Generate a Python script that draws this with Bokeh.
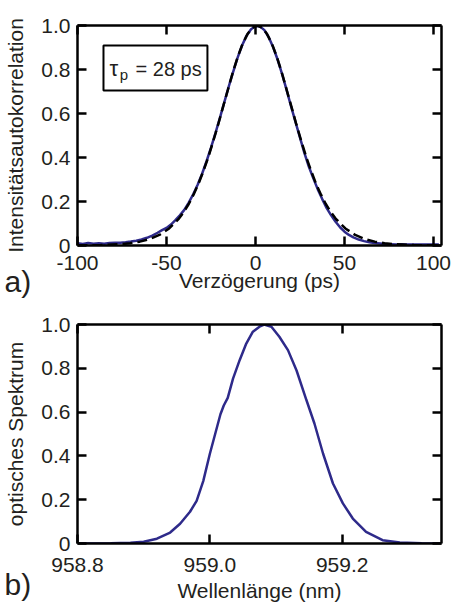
from bokeh.plotting import figure
from bokeh.layouts import column
from bokeh.models import (Range1d, FixedTicker, LinearAxis, Label, BoxAnnotation,
                          PrintfTickFormatter, CustomJSTickFormatter, GridBox)
from bokeh.embed import file_html
from bokeh.resources import INLINE

FONT = "Liberation Sans"
TXT = "#231F20"
BLUE = "#2E2A8A"

# ---------------- panel a) : intensity autocorrelation ----------------
delay_ps = [-100, -97, -94, -91, -88, -85, -82, -79, -76, -73, -70, -67, -64, -61, -58, -55,
            -52.5, -50, -47.5, -45, -42.5, -40, -37.5, -35, -32.5, -30, -27.5, -25, -22.5, -20,
            -17.5, -15, -12.5, -10, -7.5, -5, -2.5,
            0, 1,
            2.5, 5, 7.5, 10, 12.5, 15, 17.5, 20, 22.5, 25, 27.5, 30, 32.5, 35, 37.5, 40, 42.5,
            45, 47.5, 50, 52.5, 55,
            58, 61, 64, 67, 70, 73, 76, 79, 82, 85, 88, 91, 94, 97, 100, 103]
ac_measured = [0.010, 0.007, 0.011, 0.008, 0.010, 0.008, 0.011, 0.012, 0.013, 0.015, 0.018, 0.022,
               0.027, 0.035, 0.045, 0.058,
               0.070, 0.080, 0.095, 0.115, 0.137, 0.162, 0.195, 0.233, 0.276, 0.326, 0.383, 0.445,
               0.511, 0.580, 0.652, 0.723, 0.790, 0.855, 0.910, 0.954, 0.983,
               0.997, 0.998,
               0.996, 0.979, 0.946, 0.900, 0.843, 0.778, 0.706, 0.632, 0.561, 0.490, 0.420, 0.358,
               0.305, 0.255, 0.211, 0.170, 0.137, 0.108, 0.083, 0.063, 0.048, 0.037,
               0.027, 0.020, 0.015, 0.011, 0.009, 0.007, 0.006, 0.005, 0.006, 0.004, 0.005, 0.004,
               0.005, 0.004, 0.005, 0.004]

fit_delay_ps = [-100, -87, -76, -70.5, -65, -59.5, -54, -48.5, -43,
                -40.3, -37.5, -34.8, -32, -29.3, -26.5, -23.8, -21, -18.3, -15.5, -12.8, -10, -7.3,
                -4.5, -1.8,
                1,
                3.8, 6.5, 9.3, 12, 14.8, 17.5, 20.3, 23, 25.8, 28.5, 31.3, 34, 36.8, 39.5, 42.3, 45,
                50.5, 56, 61.5, 67, 72.5, 78, 89, 100, 104.5]
ac_fit = [0.0006, 0.002, 0.0061, 0.0104, 0.0175, 0.0292, 0.0479, 0.0774, 0.1223,
          0.1524, 0.1885, 0.2311, 0.281, 0.338, 0.402, 0.4729, 0.549, 0.6281, 0.708, 0.7852, 0.857,
          0.9152, 0.961, 0.990,
          1.0,
          0.990, 0.961, 0.9152, 0.857, 0.7852, 0.708, 0.6281, 0.549, 0.4729, 0.402, 0.338, 0.281,
          0.2311, 0.1885, 0.1524, 0.1223,
          0.0774, 0.0479, 0.0292, 0.0175, 0.0104, 0.0061, 0.002, 0.0007, 0.0004]

ticks_a = [-100, -50, 0, 50, 100]
ticks_y = [0, 0.2, 0.4, 0.6, 0.8, 1.0]

# ---------------- panel b) : optical spectrum ----------------
wavelength_nm = [958.80, 958.85, 958.88, 958.90, 958.92, 958.94, 958.955, 958.97, 958.98, 958.99,
                 959.00, 959.008, 959.016, 959.021, 959.027, 959.035, 959.045, 959.055, 959.065, 959.075,
                 959.082, 959.093, 959.105, 959.118, 959.131, 959.146, 959.158, 959.171, 959.186, 959.201,
                 959.216, 959.236, 959.261, 959.287, 959.32, 959.35]
spectrum = [0.0, 0.001, 0.003, 0.008, 0.022, 0.05, 0.09, 0.145, 0.195, 0.285,
            0.41, 0.50, 0.59, 0.63, 0.665, 0.753, 0.837, 0.913, 0.967, 0.99,
            1.0, 0.99, 0.944, 0.883, 0.79, 0.654, 0.548, 0.411, 0.274, 0.183,
            0.114, 0.053, 0.015, 0.005, 0.001, 0.0]

ticks_b = [958.8, 959.0, 959.2]

panel_letters = ["a)", "b)"]

blank = CustomJSTickFormatter(code="return ''")


def style(p, xticks, xfmt, xlabel, ylabel, tick_standoff, xlab_standoff):
    p.outline_line_color = None
    p.grid.visible = False
    p.add_layout(LinearAxis(ticker=FixedTicker(ticks=xticks), formatter=blank), "above")
    p.add_layout(LinearAxis(ticker=FixedTicker(ticks=ticks_y), formatter=blank), "right")
    for ax in p.axis:
        ax.axis_line_color = "black"
        ax.axis_line_width = 2.5
        ax.major_tick_line_color = "black"
        ax.major_tick_line_width = 2.5
        ax.major_tick_in = 9
        ax.major_tick_out = 0
        ax.minor_tick_line_color = None
        ax.major_label_text_font = FONT
        ax.major_label_text_font_size = "21px"
        ax.major_label_text_color = TXT
        ax.axis_label_text_font = FONT
        ax.axis_label_text_font_size = "21px"
        ax.axis_label_text_font_style = "normal"
        ax.axis_label_text_color = TXT
    for ax in p.above + p.right:
        ax.major_label_text_color = None
        ax.major_label_standoff = 0
    xa = p.below[0]
    xa.ticker = FixedTicker(ticks=xticks)
    xa.formatter = xfmt
    xa.axis_label = xlabel
    xa.major_label_standoff = tick_standoff
    xa.axis_label_standoff = xlab_standoff
    ya = p.left[0]
    ya.ticker = FixedTicker(ticks=ticks_y)
    ya.formatter = PrintfTickFormatter(format="%.1f")
    ya.major_label_overrides = {0: "0"}
    ya.axis_label = ylabel
    ya.major_label_standoff = 7
    ya.axis_label_standoff = 11


# ---- figure a
pa = figure(width=452, height=310, output_backend="svg", toolbar_location=None,
            x_range=Range1d(-100, 104.5), y_range=Range1d(0, 1.0),
            min_border_left=77, min_border_right=11, min_border_top=25, min_border_bottom=65)
style(pa, ticks_a, PrintfTickFormatter(format="%d"), "Verzögerung (ps)",
      "Intensitätsautokorrelation", 10, -4)
pa.line(delay_ps, ac_measured, line_color=BLUE, line_width=2.5)
pa.line(fit_delay_ps, ac_fit, line_color="black", line_width=2.5, line_dash="10 5")

pa.add_layout(BoxAnnotation(left=-85.4, right=-27.0, bottom=0.7045, top=0.909,
                            fill_color="white", fill_alpha=1.0, line_color="black",
                            line_alpha=1.0, line_width=2))
pa.add_layout(Label(x=-82.0, y=0.8045, text="τ", text_font=FONT, text_font_size="22px",
                    text_color=TXT, text_baseline="middle"))
pa.add_layout(Label(x=-76.3, y=0.7773, text="p", text_font=FONT, text_font_size="15px",
                    text_color=TXT, text_baseline="middle"))
pa.add_layout(Label(x=-67.4, y=0.8045, text="= 28 ps", text_font=FONT, text_font_size="20px",
                    text_color=TXT, text_baseline="middle"))

# ---- figure b
pb = figure(width=452, height=296, output_backend="svg", toolbar_location=None,
            x_range=Range1d(958.8, 959.35), y_range=Range1d(0, 1.0),
            min_border_left=77, min_border_right=11, min_border_top=14, min_border_bottom=63)
style(pb, ticks_b, PrintfTickFormatter(format="%.1f"), "Wellenlänge (nm)", "optisches Spektrum", 14, 4)
pb.line(wavelength_nm, spectrum, line_color=BLUE, line_width=2.5)

# ---- transparent overlay (page pixel space) carrying the panel letters
ov = figure(width=452, height=606, output_backend="svg", toolbar_location=None,
            x_range=Range1d(0, 452), y_range=Range1d(606, 0),
            x_axis_type=None, y_axis_type=None, min_border=0,
            min_border_left=0, min_border_right=0, min_border_top=0, min_border_bottom=0,
            background_fill_alpha=0, border_fill_alpha=0, outline_line_color=None)
ov.grid.visible = False
for letter, ypix in zip(panel_letters, [281.0, 584.0]):
    ov.add_layout(Label(x=4, y=ypix, text=letter, text_font=FONT, text_font_size="30px",
                        text_color=TXT, text_baseline="middle", text_align="left"))

stack = column(pa, pb)
layout = GridBox(children=[(stack, 0, 0), (ov, 0, 0)], spacing=0)
open("out.html", "w").write(file_html(layout, INLINE))
